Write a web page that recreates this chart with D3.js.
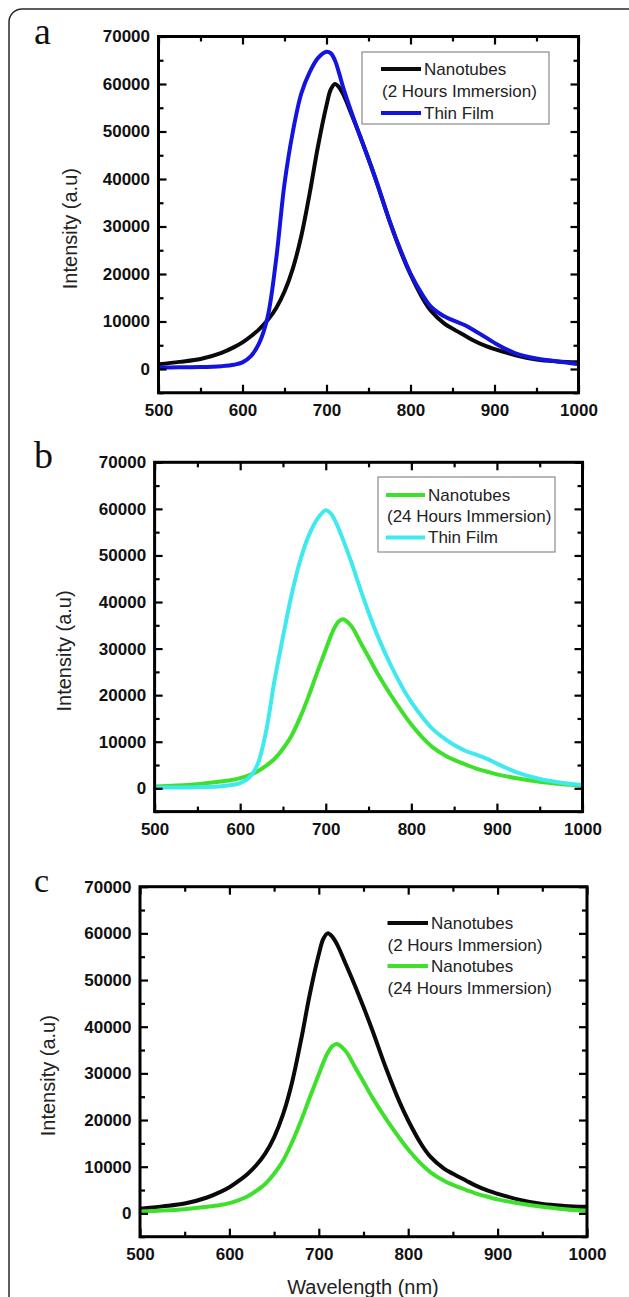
<!DOCTYPE html>
<html>
<head>
<meta charset="utf-8">
<script src="https://cdn.jsdelivr.net/npm/d3@7"></script>
<style>
  html, body { margin: 0; padding: 0; background: #fff; }
  svg { display: block; }
</style>
</head>
<body>
<svg id="chart" width="629" height="1297"></svg>
<script>
// ---------- DATA ----------
const wavelength = [500, 525, 550, 575, 590, 600, 610, 620, 630, 640, 650, 660, 670, 680, 690, 700, 705, 710, 715, 720, 730, 740, 750, 760, 775, 790, 800, 815, 825, 840, 850, 865, 875, 890, 900, 925, 950, 975, 1000];

const nanotubes2h = [1000, 1500, 2100, 3400, 4600, 5600, 6900, 8400, 10300, 12800, 16300, 21200, 28000, 37000, 47000, 55500, 58800, 60000, 59300, 57800, 53500, 49000, 44200, 39200, 31200, 24000, 19900, 14700, 12100, 9600, 8500, 7000, 6000, 4800, 4200, 2900, 2000, 1600, 1400];

const thinFilmA = [300, 350, 400, 600, 900, 1400, 2700, 5500, 11000, 23000, 39000, 50000, 58000, 62500, 65500, 66800, 66500, 65000, 62300, 59200, 53900, 49000, 44200, 39200, 31200, 24200, 20100, 15400, 13000, 11100, 10300, 9200, 8200, 6600, 5500, 3300, 2200, 1600, 1000];

const nanotubes24h = [400, 600, 900, 1400, 1800, 2200, 2800, 3600, 4800, 6300, 8500, 11300, 15200, 19800, 24900, 29800, 32300, 34400, 35800, 36300, 34800, 31500, 28200, 24800, 20300, 16200, 13700, 10500, 8800, 7000, 6100, 5000, 4300, 3500, 3000, 2100, 1400, 900, 500];

const thinFilmB = [200, 200, 250, 400, 700, 1100, 2200, 5000, 12000, 23000, 32500, 41500, 48800, 54200, 57800, 59700, 59200, 57800, 55800, 53500, 48500, 43000, 37800, 33000, 26800, 21500, 18500, 14800, 12700, 10500, 9300, 7900, 7300, 6200, 5300, 3300, 2000, 1200, 700];

const xTicks = [500, 600, 700, 800, 900, 1000];
const yTicks = [0, 10000, 20000, 30000, 40000, 50000, 60000, 70000];
const xMinor = [550, 650, 750, 850, 950];
const yMinor = [-5000, 5000, 15000, 25000, 35000, 45000, 55000, 65000];

const panelLetters = ["a", "b", "c"];
const yTitle = "Intensity (a.u)";
const xTitle = "Wavelength (nm)";

// ---------- LAYOUT / STYLE ----------
const colors = { nano2h: "#0a0a0a", filmA: "#1414e0", nano24h: "#3ee02c", filmB: "#3fe9ee" };

const panels = [
  { letter: panelLetters[0], left: 158.5, right: 578.5, top: 36.5, bottom: 392.75,
    letterX: 34, letterY: 44, letterSize: 38, yTitleX: 77,
    series: [ { name: "nano2h", values: nanotubes2h }, { name: "filmA", values: thinFilmA } ],
    legend: { box: [362, 52, 187, 72],
      items: [ { text: "Nanotubes", color: colors.nano2h, x1: 381, x2: 421, tx: 424, y: 69 },
               { text: "(2 Hours Immersion)", color: null, tx: 382, y: 91.5 },
               { text: "Thin Film", color: colors.filmA, x1: 381, x2: 421, tx: 424, y: 113 } ] } },
  { letter: panelLetters[1], left: 154.6, right: 582.5, top: 462.3, bottom: 811.6,
    letterX: 34, letterY: 468, letterSize: 38, yTitleX: 71,
    series: [ { name: "nano24h", values: nanotubes24h }, { name: "filmB", values: thinFilmB } ],
    legend: { box: [378, 477, 177, 75],
      items: [ { text: "Nanotubes", color: colors.nano24h, x1: 386, x2: 425, tx: 428, y: 495 },
               { text: "(24 Hours Immersion)", color: null, tx: 387, y: 516.5 },
               { text: "Thin Film", color: colors.filmB, x1: 386, x2: 425, tx: 428, y: 537.5 } ] } },
  { letter: panelLetters[2], left: 140, right: 587, top: 886.7, bottom: 1236.7,
    letterX: 34, letterY: 892, letterSize: 34, yTitleX: 55,
    series: [ { name: "nano2h", values: nanotubes2h }, { name: "nano24h", values: nanotubes24h } ],
    legend: { box: null,
      items: [ { text: "Nanotubes", color: colors.nano2h, x1: 387.5, x2: 428, tx: 431, y: 923 },
               { text: "(2 Hours Immersion)", color: null, tx: 387.5, y: 945 },
               { text: "Nanotubes", color: colors.nano24h, x1: 387.5, x2: 428, tx: 431, y: 966 },
               { text: "(24 Hours Immersion)", color: null, tx: 387.5, y: 988 } ] } }
];

const svg = d3.select("#chart");
const SANS = "'Liberation Sans', Arial, Helvetica, sans-serif";
const SERIF = "'Liberation Serif', 'Times New Roman', serif";

// outer figure border (rounded, only top and left visible)
svg.append("rect")
  .attr("x", 9).attr("y", 9).attr("width", 660).attr("height", 1330)
  .attr("rx", 13).attr("ry", 13)
  .attr("fill", "none").attr("stroke", "#2a2a2a").attr("stroke-width", 1.5);

panels.forEach((p, i) => {
  const x = d3.scaleLinear().domain([500, 1000]).range([p.left, p.right]);
  const y = d3.scaleLinear().domain([-5000, 70000]).range([p.bottom, p.top]);
  const g = svg.append("g");

  const clipId = "clip" + i;
  svg.append("clipPath").attr("id", clipId).append("rect")
    .attr("x", p.left).attr("y", p.top).attr("width", p.right - p.left).attr("height", p.bottom - p.top);

  const line = d3.line()
    .x((d, k) => x(wavelength[k]))
    .y(d => y(d))
    .curve(d3.curveCatmullRom.alpha(0.5));
  p.series.forEach(s => {
    g.append("path")
      .attr("d", line(s.values))
      .attr("clip-path", "url(#" + clipId + ")")
      .attr("fill", "none")
      .attr("stroke", colors[s.name])
      .attr("stroke-width", 4)
      .attr("stroke-linejoin", "round")
      .attr("stroke-linecap", "round");
  });

  const styleAxis = sel => {
    sel.select(".domain").remove();
    sel.selectAll(".tick line").attr("stroke", "#000").attr("stroke-width", 2.2);
    sel.selectAll(".tick text")
      .attr("font-family", SANS).attr("font-weight", "bold").attr("font-size", 17)
      .attr("fill", "#111");
  };
  g.append("g").attr("transform", `translate(0,${p.bottom})`)
    .call(d3.axisBottom(x).tickValues(xTicks).tickSize(-8).tickPadding(11).tickFormat(d3.format("d")))
    .call(styleAxis);
  g.append("g").attr("transform", `translate(0,${p.bottom})`)
    .call(d3.axisBottom(x).tickValues(xMinor).tickSize(-5).tickFormat(""))
    .call(styleAxis);
  g.append("g").attr("transform", `translate(0,${p.top})`)
    .call(d3.axisTop(x).tickValues(xTicks).tickSize(-8).tickFormat(""))
    .call(styleAxis);
  g.append("g").attr("transform", `translate(0,${p.top})`)
    .call(d3.axisTop(x).tickValues(xMinor).tickSize(-5).tickFormat(""))
    .call(styleAxis);
  g.append("g").attr("transform", `translate(${p.left},0)`)
    .call(d3.axisLeft(y).tickValues(yTicks).tickSize(-8).tickPadding(8.5).tickFormat(d3.format("d")))
    .call(styleAxis);
  g.append("g").attr("transform", `translate(${p.left},0)`)
    .call(d3.axisLeft(y).tickValues(yMinor).tickSize(-5).tickFormat(""))
    .call(styleAxis);
  g.append("g").attr("transform", `translate(${p.right},0)`)
    .call(d3.axisRight(y).tickValues(yTicks).tickSize(-8).tickFormat(""))
    .call(styleAxis);
  g.append("g").attr("transform", `translate(${p.right},0)`)
    .call(d3.axisRight(y).tickValues(yMinor).tickSize(-5).tickFormat(""))
    .call(styleAxis);

  g.append("rect")
    .attr("x", p.left).attr("y", p.top)
    .attr("width", p.right - p.left).attr("height", p.bottom - p.top)
    .attr("fill", "none").attr("stroke", "#000").attr("stroke-width", 3);

  g.append("text")
    .attr("transform", `translate(${p.yTitleX},${(p.top + p.bottom) / 2 + 14}) rotate(-90)`)
    .attr("text-anchor", "middle")
    .attr("font-family", SANS).attr("font-size", 20)
    .attr("fill", "#222")
    .text(yTitle);

  g.append("text")
    .attr("x", p.letterX).attr("y", p.letterY)
    .attr("font-family", SERIF).attr("font-size", p.letterSize)
    .attr("fill", "#111")
    .text(p.letter);

  const lg = g.append("g");
  if (p.legend.box) {
    const b = p.legend.box;
    lg.append("rect").attr("x", b[0]).attr("y", b[1]).attr("width", b[2]).attr("height", b[3])
      .attr("fill", "#fff").attr("stroke", "#8a8a8a").attr("stroke-width", 1.2);
  }
  p.legend.items.forEach(it => {
    if (it.color) {
      lg.append("line").attr("x1", it.x1).attr("x2", it.x2).attr("y1", it.y).attr("y2", it.y)
        .attr("stroke", it.color).attr("stroke-width", 4);
    }
    lg.append("text").attr("x", it.tx).attr("y", it.y).attr("dy", "0.35em")
      .attr("font-family", SANS).attr("font-size", 17)
      .attr("fill", "#222")
      .text(it.text);
  });

  if (i === 2) {
    g.append("text")
      .attr("x", 363).attr("y", 1287).attr("dy", "0.35em")
      .attr("text-anchor", "middle")
      .attr("font-family", SANS).attr("font-size", 20)
      .attr("fill", "#222")
      .text(xTitle);
  }
});
</script>
</body>
</html>
